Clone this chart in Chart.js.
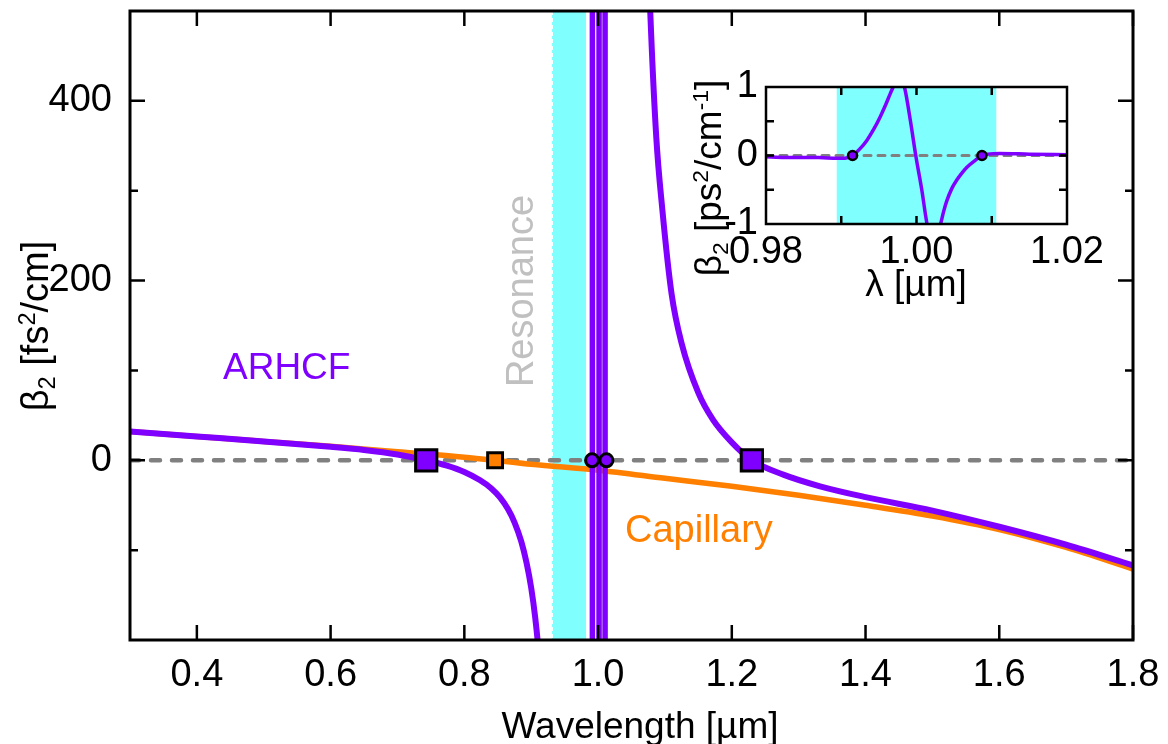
<!DOCTYPE html>
<html>
<head>
<meta charset="utf-8">
<script src="https://cdn.jsdelivr.net/npm/chart.js@4.4.1/dist/chart.umd.min.js"></script>
<style>
  html, body { margin: 0; padding: 0; background: #fff; }
  #wrap { position: relative; width: 1168px; height: 744px; }
  #main { position: absolute; left: 0; top: 0; }
  #inset { position: absolute; left: 680px; top: 60px; }
</style>
</head>
<body>
<div id="wrap">
  <canvas id="main" width="1168" height="744"></canvas>
  <canvas id="inset" width="440" height="250"></canvas>
</div>
<script>
const FONT = '"Liberation Sans", Arial, Helvetica, sans-serif';
Chart.defaults.font.family = FONT;
Chart.defaults.font.size = 38;
Chart.defaults.color = '#000';

const PURPLE = '#8000ff', ORANGE = '#ff8000', CYAN = '#80ffff', GREY = '#808080';

// ---- main plot: wavelength [um] vs beta2 [fs^2/cm]
const xRange = [0.3, 1.8];
const yRange = [-200, 500];
const xTicks = [0.4, 0.6, 0.8, 1.0, 1.2, 1.4, 1.6, 1.8];
const yTicks = [0, 200, 400];
const yMinor = [-100, 100, 300];

const capWl = [0.30, 0.40, 0.50, 0.60, 0.70, 0.80, 0.846, 0.90, 1.00, 1.10, 1.20, 1.30, 1.40, 1.50, 1.60, 1.70, 1.80];
const capB2 = [32, 26.5, 21, 15.5, 9.5, 3.5, 0, -4.5, -11, -20, -29, -39, -50, -62, -77, -97, -121];

// ARHCF, short-wavelength branch
const arhcfWlA = [0.30, 0.40, 0.50, 0.60, 0.65, 0.70, 0.743, 0.774, 0.80, 0.823, 0.84, 0.853, 0.865, 0.875, 0.885, 0.893, 0.90, 0.906, 0.911, 0.917];
const arhcfB2A = [32, 26.5, 21, 15, 11.5, 6.5, 0, -6, -13, -22, -31, -41, -54, -69, -90, -114, -142, -175, -212, -275];
// ARHCF, long-wavelength branch
const arhcfWlB = [1.074, 1.078, 1.087, 1.096, 1.11, 1.125, 1.15, 1.172, 1.20, 1.23, 1.277, 1.332, 1.40, 1.50, 1.60, 1.70, 1.80];
const arhcfB2B = [590, 500, 360, 280, 185, 130, 75, 45, 20, 0, -16, -29, -41, -56, -74, -94, -117];
// resonance: curve runs off-scale at these wavelengths
const resWl = [0.9915, 1.0015, 1.0105];
const resB2 = [-1000, 1000];

const zdwArhcf = [0.743, 1.230];
const zdwCap = [0.846];
const zdwRes = [0.991, 1.0125];
const bandMain = [0.931, 0.982];

// ---- inset: beta2 [ps^2/cm] close to the resonance
const inRange = [0.98, 1.02];
const inYRange = [-1, 1];
const inXTicks = [0.98, 1.00, 1.02];
const inXMinor = [0.99, 1.00, 1.01];
const inYTicks = [-1, 0, 1];
const inYMinor = [-0.5, 0, 0.5];
const inWl = [0.980, 0.984, 0.987, 0.9894, 0.9905, 0.9915, 0.9925, 0.9934, 0.9943, 0.9952, 0.9959, 0.9965, 0.9969, 0.9973, 0.9976, 0.9980, 0.9984, 0.9992, 0.9999, 1.0007, 1.0014, 1.0019, 1.0024, 1.0028, 1.0032, 1.0036, 1.0040, 1.0047, 1.0054, 1.0060, 1.0067, 1.0078, 1.0087, 1.0095, 1.0110, 1.0150, 1.0200];
const inB2 = [-0.02, -0.03, -0.03, -0.04, -0.04, 0, 0.1, 0.22, 0.38, 0.57, 0.74, 0.9, 1.0, 1.1, 1.13, 1.1, 1.0, 0.5, 0, -0.5, -1.0, -1.2, -1.25, -1.15, -1.0, -0.82, -0.67, -0.48, -0.35, -0.26, -0.17, -0.07, 0, 0.02, 0.03, 0.02, 0.01];
const inZdw = [0.9915, 1.0087];
const bandInset = [0.9894, 1.0106];

const pts = (xs, ys) => xs.map((x, i) => ({x, y: ys[i]}));

function line(data, color, width, extra) {
  return Object.assign({
    data, borderColor: color, borderWidth: width, pointRadius: 0, fill: false,
    clip: 0, cubicInterpolationMode: 'monotone'
  }, extra);
}

function marks(xs, color, style, r, bw) {
  return {
    data: xs.map(x => ({x, y: 0})), showLine: false, pointStyle: style,
    pointRadius: r, pointBackgroundColor: color, pointBorderColor: '#000',
    pointBorderWidth: bw, clip: false
  };
}

// the axes draw no padding of their own, the chart area is fixed by hand
function fixSize(w, h) {
  return s => {
    if (w !== null) s.width = w;
    if (h !== null) s.height = h;
    s.paddingTop = s.paddingBottom = s.paddingLeft = s.paddingRight = 0;
  };
}

// cyan resonance band
function band(range, dashedEdge) {
  return {
    id: 'band',
    beforeDatasetsDraw(chart) {
      const {ctx, chartArea: a, scales: {x}} = chart;
      const x0 = x.getPixelForValue(range[0]), x1 = x.getPixelForValue(range[1]);
      ctx.save();
      ctx.fillStyle = CYAN;
      ctx.fillRect(x0, a.top, x1 - x0, a.height);
      if (dashedEdge) {
        ctx.strokeStyle = '#fff';
        ctx.lineWidth = 1;
        ctx.setLineDash([4, 3]);
        ctx.beginPath();
        ctx.moveTo(x0 + 0.5, a.top); ctx.lineTo(x0 + 0.5, a.bottom);
        ctx.stroke();
      }
      ctx.restore();
    }
  };
}

// box with inward ticks on all four sides
function frame(o) {
  return {
    id: 'frame',
    afterDatasetsDraw(chart) {
      const {ctx, chartArea: a, scales: {x, y}} = chart;
      ctx.save();
      ctx.strokeStyle = '#000';
      ctx.lineWidth = o.tickWidth;
      ctx.beginPath();
      const xt = (vals, len) => vals.forEach(v => {
        const p = x.getPixelForValue(v);
        ctx.moveTo(p, a.bottom); ctx.lineTo(p, a.bottom - len);
        ctx.moveTo(p, a.top); ctx.lineTo(p, a.top + len);
      });
      const yt = (vals, len) => vals.forEach(v => {
        const p = y.getPixelForValue(v);
        ctx.moveTo(a.left, p); ctx.lineTo(a.left + len, p);
        ctx.moveTo(a.right, p); ctx.lineTo(a.right - len, p);
      });
      xt(o.xMajor, o.major); xt(o.xMinor, o.minor);
      yt(o.yMajor, o.major); yt(o.yMinor, o.minor);
      ctx.stroke();
      ctx.lineWidth = o.width;
      ctx.strokeRect(a.left, a.top, a.width, a.height);
      ctx.restore();
    }
  };
}

// text with sub/superscripts
function drawRich(ctx, it) {
  const size = it.size || 37;
  ctx.save();
  ctx.translate(it.x, it.y);
  if (it.rot) ctx.rotate(it.rot);
  ctx.fillStyle = it.color || '#000';
  ctx.textAlign = 'left';
  ctx.textBaseline = 'alphabetic';
  const fnt = s => s + 'px ' + FONT;
  let w = 0;
  const parts = it.parts.map(p => {
    const small = p[1] === 'sub' || p[1] === 'sup';
    ctx.font = fnt(small ? size * 0.62 : size);
    const pw = ctx.measureText(p[0]).width;
    w += pw;
    return {t: p[0], k: p[1], small, pw};
  });
  let cx = it.align === 'center' ? -w / 2 : 0;
  const base = it.middle ? size * 0.35 : 0;
  parts.forEach(p => {
    ctx.font = fnt(p.small ? size * 0.62 : size);
    const dy = p.k === 'sub' ? size * 0.18 : p.k === 'sup' ? -size * 0.36 : 0;
    ctx.fillText(p.t, cx, base + dy);
    cx += p.pw;
  });
  ctx.restore();
}

function labels(items) {
  return {
    id: 'labels',
    afterDraw(chart) { items.forEach(it => drawRich(chart.ctx, it)); }
  };
}

const UP = -Math.PI / 2;

new Chart(document.getElementById('main'), {
  type: 'line',
  data: {
    datasets: [
      marks(zdwArhcf, PURPLE, 'rect', 15, 3),
      marks(zdwCap, ORANGE, 'rect', 10.5, 3),
      marks(zdwRes, PURPLE, 'circle', 6.5, 3),
      line(pts(arhcfWlA, arhcfB2A), PURPLE, 6),
      line(pts(arhcfWlB, arhcfB2B), PURPLE, 6),
      ...resWl.map(w => line(pts([w, w], resB2), PURPLE, 5.5, {tension: 0, cubicInterpolationMode: 'default'})),
      line(pts(capWl, capB2), ORANGE, 5.5),
      line(pts(xRange, [0, 0]), GREY, 4.5, {borderDash: [9, 12], borderCapStyle: 'round', tension: 0, cubicInterpolationMode: 'default'})
    ]
  },
  options: {
    responsive: false,
    animation: false,
    events: [],
    layout: {autoPadding: false, padding: {top: 11, right: 35, left: 0, bottom: 0}},
    plugins: {legend: {display: false}, tooltip: {enabled: false}},
    scales: {
      x: {
        type: 'linear', min: xRange[0], max: xRange[1],
        grid: {display: false, drawTicks: false}, border: {display: false},
        afterFit: fixSize(null, 104),
        afterBuildTicks: s => { s.ticks = xTicks.map(v => ({value: v})); },
        ticks: {padding: 13, maxRotation: 0, autoSkip: false, callback: v => Number(v).toFixed(1)}
      },
      y: {
        type: 'linear', min: yRange[0], max: yRange[1],
        grid: {display: false, drawTicks: false}, border: {display: false},
        afterFit: fixSize(130, null),
        afterBuildTicks: s => { s.ticks = yTicks.map(v => ({value: v})); },
        ticks: {padding: 18, autoSkip: false, callback: v => String(v)}
      }
    }
  },
  plugins: [
    band(bandMain, true),
    frame({xMajor: xTicks, xMinor: [], yMajor: yTicks, yMinor: yMinor, major: 15, minor: 8, tickWidth: 2.5, width: 3}),
    labels([
      {parts: [['ARHCF']], x: 223, y: 379, color: PURPLE},
      {parts: [['Capillary']], x: 625, y: 542, color: ORANGE, size: 38},
      {parts: [['Resonance']], x: 533, y: 291, rot: UP, align: 'center', color: '#c0c0c0', size: 38},
      {parts: [['\u03b2'], ['2', 'sub'], [' [fs'], ['2', 'sup'], ['/cm]']], x: 35, y: 326, rot: UP, align: 'center', middle: true, size: 38},
      {parts: [['Wavelength [\u00b5m]']], x: 640, y: 725, align: 'center', middle: true}
    ])
  ]
});

new Chart(document.getElementById('inset'), {
  type: 'line',
  data: {
    datasets: [
      marks(inZdw, PURPLE, 'circle', 4.5, 2.5),
      line(pts(inWl, inB2), PURPLE, 3.5),
      line(pts(inRange, [0, 0]), GREY, 3, {borderDash: [7, 7], borderCapStyle: 'round', tension: 0, cubicInterpolationMode: 'default'})
    ]
  },
  options: {
    responsive: false,
    animation: false,
    events: [],
    layout: {autoPadding: false, padding: {top: 27, right: 53, left: 0, bottom: 0}},
    plugins: {legend: {display: false}, tooltip: {enabled: false}},
    scales: {
      x: {
        type: 'linear', min: inRange[0], max: inRange[1],
        grid: {display: false, drawTicks: false}, border: {display: false},
        afterFit: fixSize(null, 86),
        afterBuildTicks: s => { s.ticks = inXTicks.map(v => ({value: v})); },
        ticks: {padding: 6, maxRotation: 0, autoSkip: false, callback: v => Number(v).toFixed(2)}
      },
      y: {
        type: 'linear', min: inYRange[0], max: inYRange[1],
        grid: {display: false, drawTicks: false}, border: {display: false},
        afterFit: fixSize(86, null),
        afterBuildTicks: s => { s.ticks = inYTicks.map(v => ({value: v})); },
        ticks: {padding: 8, autoSkip: false, callback: v => String(v)}
      }
    }
  },
  plugins: [
    band(bandInset, false),
    frame({xMajor: inXMinor, xMinor: [], yMajor: inYMinor, yMinor: [], major: 8, minor: 8, tickWidth: 2.5, width: 2.5}),
    labels([
      {parts: [['\u03b2'], ['2', 'sub'], [' [ps'], ['2', 'sup'], ['/cm'], ['-1', 'sup'], [']']], x: 28, y: 118, rot: UP, align: 'center', middle: true},
      {parts: [['\u03bb [\u00b5m]']], x: 236, y: 223, align: 'center', middle: true}
    ])
  ]
});
</script>
</body>
</html>
